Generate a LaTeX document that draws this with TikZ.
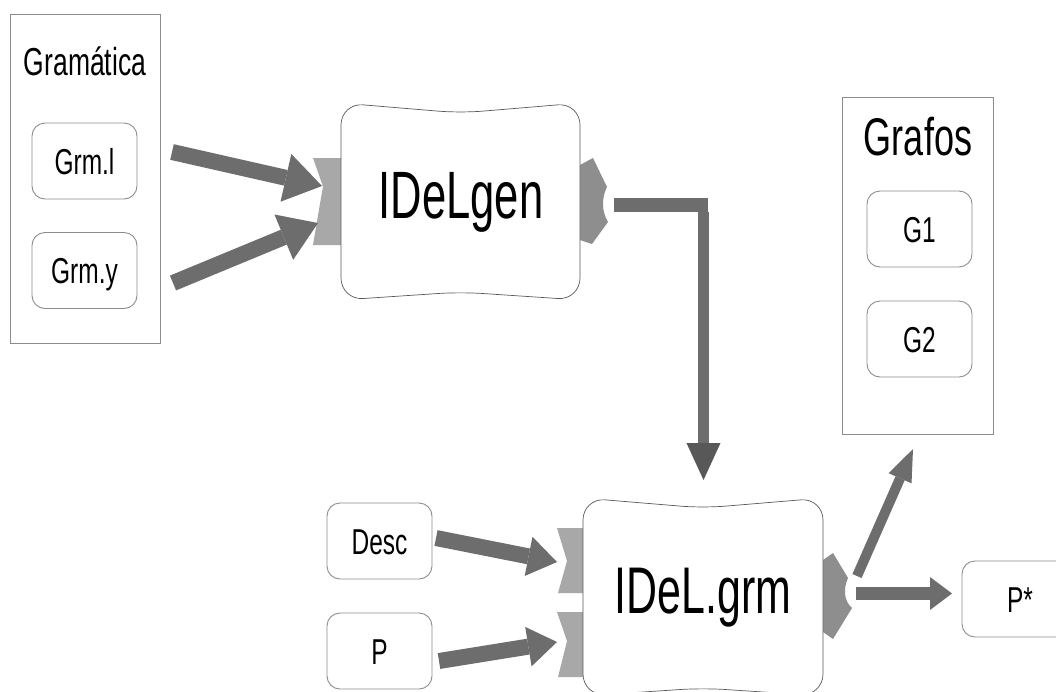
\documentclass[tikz,border=0pt]{standalone}
\usepackage{fontspec}
\setmainfont{Liberation Sans}[FakeStretch=0.68]
\newfontfamily\bigsans{Liberation Sans}[FakeStretch=0.65]
\usetikzlibrary{arrows.meta}

\definecolor{shaftgray}{HTML}{6D6D6D}
\definecolor{headgray}{HTML}{585858}
\definecolor{inport}{HTML}{A8A8A8}
\definecolor{outport}{HTML}{8E8E8E}
\definecolor{framegray}{HTML}{8C8C8C}

\begin{document}
\begin{tikzpicture}[x=1pt,y=-1pt,
  group/.style={draw=framegray,line width=0.9pt,inner sep=0pt},
  item/.style={draw=framegray,line width=0.9pt,rounded corners=13pt,
    minimum width=105pt,minimum height=76pt,inner sep=0pt,
    text height=26pt,text depth=0pt,font=\fontsize{36}{40}\selectfont},
  title/.style={anchor=base,inner sep=0pt},
  proc/.style={draw=black!65,fill=white,line width=0.7pt,rounded corners=22pt},
  bigarrow/.style={draw=shaftgray,line width=16pt,
    -{Triangle[length=37pt,width=49pt,line width=0pt]}},
  midarrow/.style={draw=shaftgray,line width=16pt,
    -{Triangle[length=29pt,width=40pt,line width=0pt]}},
  outarrow/.style={draw=shaftgray,line width=13pt,
    -{Triangle[length=22pt,width=33pt,line width=0pt]}},
  thinarrow/.style={draw=shaftgray,line width=10pt,
    -{Triangle[length=32pt,width=25pt,line width=0pt]}}]
  \useasboundingbox (0,0) rectangle (1056,691);
  \clip (0,0) rectangle (1056,691);

  % grammar files
  \node[group,minimum width=150pt,minimum height=329pt] (gram) at (85,178.5) {};
  \node[title,font=\fontsize{39}{44}\selectfont] (gramtitle) at (85,75) {Gramática};
  \node[item] (grml) at (84.5,161) {Grm.l};
  \node[item] (grmy) at (84.5,270.5) {Grm.y};

  % generator
  \begin{scope}[shift={(460.5,201.5)}]
    \fill[inport] (-147.5,-43.5) -- (-137.5,-15) .. controls (-141,5) .. (-147.5,43.5)
      -- (-119.5,43.5) -- (-119.5,-43.5) -- cycle;
    \fill[outport] (119.5,-36.5) -- (132.5,-43.5) -- (146.5,-14.5)
      .. controls (141,-4) and (141,10) .. (147.5,20.5) -- (131.5,42.5) -- (119.5,38.5) -- cycle;
    \draw[proc] (-119.5,-98.5) -- (0,-88.5) -- (119.5,-98.5) -- (119.5,98.5)
      -- (0,90.5) -- (-119.5,98.5) -- cycle;
    \coordinate (genin1) at (-138.5,-15.5);
    \coordinate (genin2) at (-142.5,21.5);
  \end{scope}
  \node[title,font=\bigsans\fontsize{67}{70}\selectfont] (gen) at (461,218) {IDeLgen};

  % grammar processor
  \begin{scope}[shift={(703,597)}]
    \fill[inport] (-146,-69) -- (-136,-36) -- (-145,-4) -- (-120,-4) -- (-120,-69) -- cycle;
    \fill[inport] (-146,15) -- (-136,44) -- (-145,80) -- (-120,80) -- (-120,15) -- cycle;
    \fill[outport] (120,-37) -- (130,-44) -- (145,-19)
      .. controls (140,-8) and (141,4) .. (149,11) -- (130,42) -- (120,35) -- cycle;
    \draw[proc] (-120,-99) -- (0,-89) -- (120,-99) -- (120,99)
      -- (0,91) -- (-120,99) -- cycle;
  \end{scope}
  \node[title,font=\bigsans\fontsize{66}{70}\selectfont] (grm) at (703,613) {IDeL.grm};

  % graphs
  \node[group,minimum width=151pt,minimum height=337pt] (graf) at (917.5,265.5) {};
  \node[title,font=\fontsize{53}{58}\selectfont] (graftitle) at (918,155) {Grafos};
  \node[item] (g1) at (919.5,229) {G1};
  \node[item] (g2) at (919.5,339) {G2};

  % inputs and output
  \node[item] (desc) at (379.5,541) {Desc};
  \node[item] (prog) at (379.5,651) {P};
  \node[item,minimum width=116pt] (pstar) at (1020,599) {P*};

  \coordinate (fromgrml) at (172,152);
  \coordinate (fromgrmy) at (173,283);
  \coordinate (fromdesc) at (436,538);
  \coordinate (fromprog) at (439,661);
  \coordinate (grmin1) at (557,562);
  \coordinate (grmin2) at (557,642);
  \coordinate (genout) at (614,205);
  \coordinate (bend) at (708,205);
  \coordinate (down) at (703.5,212);
  \coordinate (grmtop) at (703.5,480);
  \coordinate (grmout) at (856,593.5);
  \coordinate (grmup) at (857,576);
  \coordinate (tograf) at (913,449);
  \coordinate (topstar) at (952,593.5);

  \draw[bigarrow] (fromgrml) -- (genin1);
  \draw[bigarrow] (fromgrmy) -- (genin2);
  \draw[midarrow] (fromdesc) -- (grmin1);
  \draw[midarrow] (fromprog) -- (grmin2);
  \draw[draw=shaftgray,line width=14pt] (genout) -- (bend);
  \draw[draw=shaftgray,line width=11pt,
    -{Triangle[length=37pt,width=34pt,line width=0pt,color=headgray]}] (down) -- (grmtop);
  \draw[outarrow] (grmout) -- (topstar);
  \draw[thinarrow] (grmup) -- (tograf);
\end{tikzpicture}
\end{document}
